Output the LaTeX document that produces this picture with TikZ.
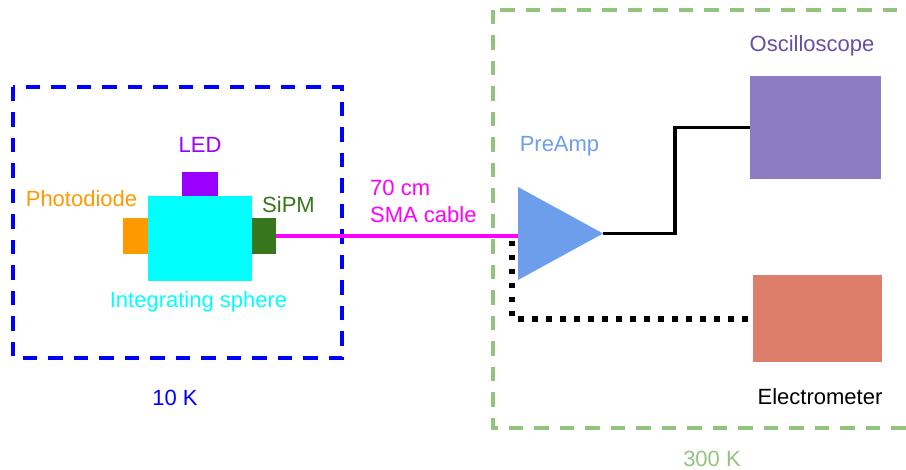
\documentclass[tikz,border=0pt]{standalone}
\usepackage{fontspec}
\setmainfont{Liberation Sans}
\definecolor{ledc}{HTML}{9900FF}
\definecolor{pdc}{HTML}{FF9900}
\definecolor{sipmc}{HTML}{38761D}
\definecolor{sphc}{HTML}{00FFFF}
\definecolor{ampc}{HTML}{6D9EEB}
\definecolor{oscc}{HTML}{8E7CC3}
\definecolor{oscl}{HTML}{674EA7}
\definecolor{elc}{HTML}{DD7E6B}
\definecolor{roomc}{HTML}{93C47D}
\definecolor{cablec}{HTML}{FF00FF}
\begin{document}
\begin{tikzpicture}[x=1pt,y=-1pt,
  box/.style={rectangle, inner sep=0pt, outer sep=0pt, draw=none},
  lbl/.style={inner sep=0pt, font=\fontsize{22}{27}\selectfont},
  wire/.style={line width=3.5pt},
  dotwire/.style={line width=5.5pt, dash pattern=on 5.5pt off 8.5pt},
  zone/.style={line width=4pt, dash pattern=on 14.5pt off 11pt}]
\useasboundingbox (0,0) rectangle (906,470);
\clip (0,0) rectangle (906,470);
% zones
\draw[zone, blue] (13,87) rectangle (342,358);
\draw[zone, roomc] (493,10) rectangle (940,428);
% cold side
\node[box, fill=sphc, minimum width=104pt, minimum height=85pt] (sph) at (200,238.5) {};
\node[box, fill=ledc, minimum width=36pt, minimum height=24pt] (led) at (200,184) {};
\node[box, fill=pdc, minimum width=25pt, minimum height=36pt] (pd) at (135.5,236) {};
\node[box, fill=sipmc, minimum width=24pt, minimum height=36pt] (sipm) at (264,236) {};
\node[lbl, text=ledc] (ledl) at (200,145) {LED};
\node[lbl, text=pdc] (pdl) at (81.5,199) {Photodiode};
\node[lbl, text=sipmc] (sipml) at (288.5,205) {SiPM};
\node[lbl, text=sphc] (sphl) at (198.5,302) {Integrating sphere};
\node[lbl, text=blue] (coldl) at (175,398) {10 K};
% cable
\node[lbl, text=cablec, align=left, anchor=west] (cablel) at (370,201) {70 cm\\SMA cable};
% warm side
\fill[ampc] (518,187) -- (603,233.5) -- (518,280) -- cycle;
\coordinate (ampin) at (518,237);
\coordinate (ampout) at (603,233.5);
\coordinate (dstart) at (512,241);
\node[lbl, text=ampc] (ampl) at (559.5,146) {PreAmp};
\node[box, fill=oscc, minimum width=131pt, minimum height=103pt] (osc) at (815.5,127.5) {};
\node[box, fill=elc, minimum width=129pt, minimum height=87pt] (elec) at (817.5,319) {};
\node[lbl, text=oscl] (oscl) at (812,46) {Oscilloscope};
\node[lbl, text=black] (elecl) at (820,397) {Electrometer};
\node[lbl, text=roomc] (warml) at (712,459) {300 K};
% connectors
\draw[wire, cablec] (sipm.east) -- (sipm.east -| ampin);
\draw[wire, black] (ampout) -- ++(72,0) |- (osc.west);
\draw[dotwire, black] (dstart) |- (elec.west);
\end{tikzpicture}
\end{document}
